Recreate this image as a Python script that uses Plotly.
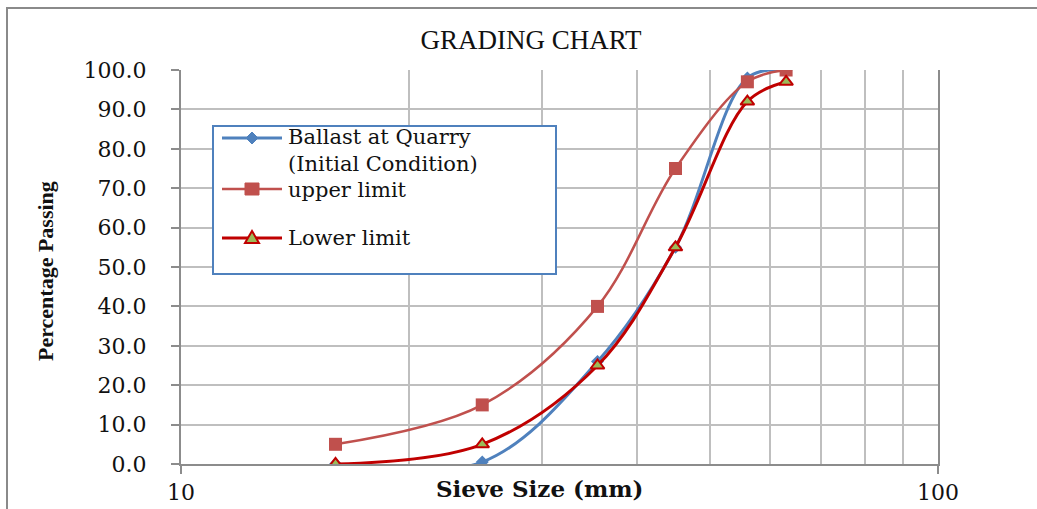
import plotly.graph_objects as go

# Sieve sizes (mm) and percentage passing for each grading curve
sieve_mm = [16, 25, 35.5, 45, 56, 63]
ballast_quarry = [0.0, 0.5, 26.0, 55.0, 98.0, 100.0]
upper_limit = [5.0, 15.0, 40.0, 75.0, 97.0, 100.0]
lower_limit = [0.0, 5.0, 25.0, 55.0, 92.0, 97.0]

y_ticks = [0, 10, 20, 30, 40, 50, 60, 70, 80, 90, 100]
x_ticks = [10, 100]
x_minor = [20, 30, 40, 50, 60, 70, 80, 90]

BLUE = "#4F81BD"
UPPER_RED = "#C0504D"
LOWER_RED = "#C00000"
GREEN = "#9BBB59"
GRID = "#BFBFBF"
AXIS = "#8C8C8C"

W, H = 1037, 509
ML, MR, MT, MB = 181, 99, 70, 45
PW, PH = W - ML - MR, H - MT - MB


def px_x(x):
    return (x - ML) / PW


def px_y(y):
    return (H - MB - y) / PH


fig = go.Figure()

fig.add_trace(go.Scatter(
    x=sieve_mm, y=ballast_quarry, mode="lines+markers",
    line=dict(color=BLUE, width=3, shape="spline", smoothing=1.0),
    marker=dict(symbol="diamond", size=10, color=BLUE),
    name="Ballast at Quarry (Initial Condition)", showlegend=False,
))
fig.add_trace(go.Scatter(
    x=sieve_mm, y=upper_limit, mode="lines+markers",
    line=dict(color=UPPER_RED, width=2.5, shape="spline", smoothing=1.0),
    marker=dict(symbol="square", size=13, color=UPPER_RED),
    name="upper limit", showlegend=False,
))
fig.add_trace(go.Scatter(
    x=sieve_mm, y=lower_limit, mode="lines+markers",
    line=dict(color=LOWER_RED, width=3, shape="spline", smoothing=1.0),
    marker=dict(symbol="triangle-up", size=12, color=GREEN,
                line=dict(color=LOWER_RED, width=2)),
    name="Lower limit", showlegend=False,
))

shapes = []
# outer chart frame
shapes.append(dict(type="rect", xref="paper", yref="paper",
                   x0=px_x(7), x1=px_x(1100), y0=px_y(560), y1=px_y(8),
                   line=dict(color="#8A8A8A", width=2), layer="below"))

# legend box
shapes.append(dict(type="rect", xref="paper", yref="paper",
                   x0=px_x(213), x1=px_x(556), y0=px_y(274), y1=px_y(126),
                   line=dict(color=BLUE, width=2), fillcolor="white", layer="above"))

legend_rows = [
    (138, BLUE, 3),
    (189, UPPER_RED, 2.5),
    (238, LOWER_RED, 3),
]
for y, col, wdt in legend_rows:
    shapes.append(dict(type="line", xref="paper", yref="paper",
                       x0=px_x(222), x1=px_x(282), y0=px_y(y), y1=px_y(y),
                       line=dict(color=col, width=wdt), layer="above"))

# legend marker samples
cx = px_x(252)
shapes.append(dict(type="path", xref="paper", yref="paper",
                   xsizemode="pixel", ysizemode="pixel",
                   xanchor=cx, yanchor=px_y(138),
                   path="M -6 0 L 0 6 L 6 0 L 0 -6 Z",
                   fillcolor=BLUE, line=dict(color=BLUE, width=1), layer="above"))
shapes.append(dict(type="rect", xref="paper", yref="paper",
                   xsizemode="pixel", ysizemode="pixel",
                   xanchor=cx, yanchor=px_y(189),
                   x0=-7, x1=7, y0=-6, y1=6,
                   fillcolor=UPPER_RED, line=dict(color=UPPER_RED, width=1), layer="above"))
shapes.append(dict(type="path", xref="paper", yref="paper",
                   xsizemode="pixel", ysizemode="pixel",
                   xanchor=cx, yanchor=px_y(238),
                   path="M -7 -5 L 7 -5 L 0 7 Z",
                   fillcolor=GREEN, line=dict(color=LOWER_RED, width=2), layer="above"))

legend_font = dict(family="DejaVu Serif", size=21, color="#111111")
annotations = []
for text, y in [("Ballast at Quarry", 137), ("(Initial Condition)", 164),
                ("upper limit", 190), ("Lower limit", 238)]:
    annotations.append(dict(text=text, xref="paper", yref="paper",
                            x=px_x(286), y=px_y(y), xanchor="left", yanchor="middle",
                            showarrow=False, font=legend_font))

# axis titles
annotations.append(dict(text="<b>Sieve Size (mm)</b>", xref="paper", yref="paper",
                        x=px_x(539), y=px_y(488), xanchor="center", yanchor="middle",
                        showarrow=False,
                        font=dict(family="DejaVu Serif", size=23, color="#111111")))
annotations.append(dict(text="<b>Percentage Passing</b>", xref="paper", yref="paper",
                        x=px_x(45), y=px_y(271), xanchor="center", yanchor="middle",
                        textangle=-90, showarrow=False,
                        font=dict(family="Liberation Serif", size=22, color="#111111")))

fig.update_layout(
    width=W, height=H,
    margin=dict(l=ML, r=MR, t=MT, b=MB, autoexpand=False),
    paper_bgcolor="white", plot_bgcolor="white",
    title=dict(text="GRADING CHART", xref="paper", x=px_x(531), xanchor="center",
               yref="container", y=1 - 40 / H, yanchor="middle",
               font=dict(family="Liberation Serif", size=27, color="#111111")),
    shapes=shapes, annotations=annotations,
    showlegend=False,
)

fig.update_xaxes(
    type="log", range=[1, 2], automargin=False,
    tickmode="array", tickvals=x_ticks, ticktext=[str(v) for v in x_ticks],
    ticks="outside", ticklen=8, tickwidth=2, tickcolor=AXIS,
    showline=True, linecolor=AXIS, linewidth=2,
    showgrid=True, gridcolor=GRID, gridwidth=2,
    minor=dict(tickmode="array", tickvals=x_minor, showgrid=True,
               gridcolor=GRID, gridwidth=2, ticks=""),
    tickfont=dict(family="DejaVu Serif", size=22, color="#111111"),
    zeroline=False,
)
fig.update_yaxes(
    range=[0, 100], automargin=False, tickmode="array", tickvals=y_ticks,
    ticktext=[f"{v:.1f}" for v in y_ticks],
    ticks="outside", ticklen=8, tickwidth=2, tickcolor=AXIS,
    ticklabelstandoff=20,
    showline=True, linecolor=AXIS, linewidth=2, mirror=True,
    showgrid=True, gridcolor=GRID, gridwidth=2,
    tickfont=dict(family="DejaVu Serif", size=22, color="#111111"),
    zeroline=False,
)

fig.write_html("out.html")
